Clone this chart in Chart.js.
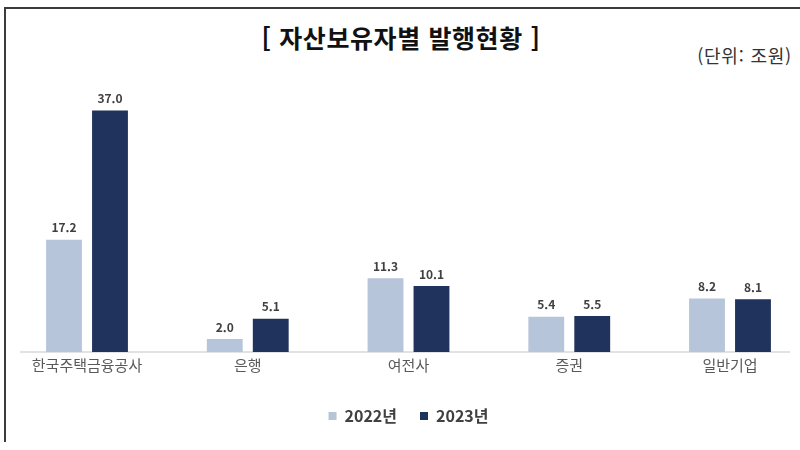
<!DOCTYPE html>
<html lang="ko">
<head>
<meta charset="utf-8">
<script src="https://cdn.jsdelivr.net/npm/chart.js@4/dist/chart.umd.min.js"></script>
<style>
  html, body { margin: 0; padding: 0; background: #ffffff; }
  body { width: 800px; height: 450px; position: relative; overflow: hidden; }
  #frame { position: absolute; left: 4px; top: 7px; width: 800px; height: 435px;
           border-top: 2px solid #3c3c3c; border-left: 2px solid #3c3c3c; box-sizing: border-box; }
  #title { position: absolute; left: 0; width: 802px; top: 22px; text-align: center;
           font-family: "Noto Sans CJK KR", sans-serif; font-weight: bold; font-size: 25px;
           letter-spacing: 0.6px; color: #111; line-height: 30px; white-space: pre; }
  #unit { position: absolute; right: 8px; top: 44px; font-family: "Noto Sans CJK KR", serif;
          font-size: 18px; letter-spacing: 0.8px; color: #333; line-height: 22px; }
  canvas { position: absolute; left: 0; top: 0; }
</style>
</head>
<body>
<div id="frame"></div>
<div id="title">[ 자산보유자별 발행현황 ]</div>
<div id="unit">(단위: 조원)</div>
<canvas id="c" width="800" height="450"></canvas>
<script>
const categories = ["한국주택금융공사", "은행", "여전사", "증권", "일반기업"];
const seriesNames = ["2022년", "2023년"];
const values2022 = [17.2, 2.0, 11.3, 5.4, 8.2];
const values2023 = [37.0, 5.1, 10.1, 5.5, 8.1];

const FONT = '"Noto Sans CJK KR", "Noto Sans", sans-serif';

const baselinePlugin = {
  id: 'baseline',
  beforeDatasetsDraw(chart) {
    const ctx = chart.ctx;
    const y = chart.scales.y.getPixelForValue(0);
    ctx.save();
    ctx.strokeStyle = '#d9d9d9';
    ctx.lineWidth = 1.5;
    ctx.beginPath();
    ctx.moveTo(20, y);
    ctx.lineTo(790, y);
    ctx.stroke();
    ctx.restore();
  }
};

const valueLabelPlugin = {
  id: 'valueLabels',
  afterDatasetsDraw(chart) {
    const ctx = chart.ctx;
    ctx.save();
    ctx.font = 'bold 12px ' + FONT;
    ctx.fillStyle = '#404040';
    ctx.textAlign = 'center';
    ctx.textBaseline = 'middle';
    chart.data.datasets.forEach((ds, di) => {
      chart.getDatasetMeta(di).data.forEach((el, i) => {
        ctx.fillText(ds.data[i].toFixed(1), el.x, el.y - 12);
      });
    });
    ctx.restore();
  }
};

new Chart(document.getElementById('c'), {
  type: 'bar',
  data: {
    labels: categories,
    datasets: [
      { label: seriesNames[0], data: values2022, backgroundColor: '#b7c5db', clip: false },
      { label: seriesNames[1], data: values2023, backgroundColor: '#1f335c', clip: false }
    ]
  },
  options: {
    responsive: false,
    animation: false,
    devicePixelRatio: 1,
    layout: { padding: { top: 91, left: 87, right: 70, bottom: 16 } },
    datasets: { bar: { categoryPercentage: 0.572, barPercentage: 0.78 } },
    scales: {
      x: {
        offset: false,
        grid: { display: false, drawTicks: false },
        border: { display: false },
        ticks: { color: '#595959', font: { family: FONT, size: 15 }, padding: 4, maxRotation: 0, autoSkip: false },
        afterFit(scale) { scale.height += 7; }
      },
      y: { display: false, min: 0, max: 40 }
    },
    plugins: {
      legend: {
        position: 'bottom',
        labels: {
          boxWidth: 8, boxHeight: 8, padding: 23, color: '#404040',
          font: { family: FONT, size: 16, weight: 'bold' }
        }
      },
      tooltip: { enabled: false }
    }
  },
  plugins: [baselinePlugin, valueLabelPlugin]
});
</script>
</body>
</html>
